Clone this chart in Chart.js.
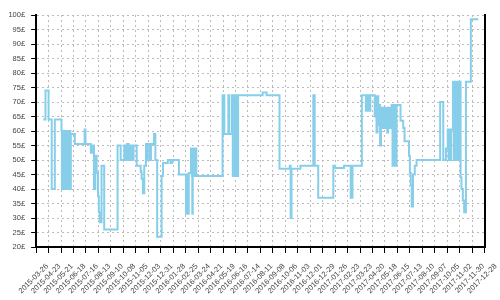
<!DOCTYPE html>
<html><head><meta charset="utf-8">
<script src="https://cdn.jsdelivr.net/npm/chart.js@4/dist/chart.umd.min.js"></script>
<style>html,body{margin:0;padding:0;background:#fff}canvas{display:block}</style>
</head><body>
<canvas id="c" width="500" height="300"></canvas>
<script>
// ---- data ----
const startDate = '2015-03-26';
const xTickLabels = ['2015-03-26','2015-04-23','2015-05-21','2015-06-18','2015-07-16','2015-08-13','2015-09-10','2015-10-08','2015-11-05','2015-12-03','2015-12-31','2016-01-28','2016-02-25','2016-03-24','2016-04-21','2016-05-19','2016-06-16','2016-07-14','2016-08-11','2016-09-08','2016-10-06','2016-11-03','2016-12-01','2016-12-29','2017-01-26','2017-02-23','2017-03-23','2017-04-20','2017-05-18','2017-06-15','2017-07-13','2017-08-10','2017-09-07','2017-10-05','2017-11-02','2017-11-30','2017-12-28'];
const yTickValues = [20,25,30,35,40,45,50,55,60,65,70,75,80,85,90,95,100];
const currency = '£';

const dates = ['2015-04-11','2015-04-16','2015-04-23','2015-04-30','2015-05-07','2015-05-22','2015-05-23','2015-05-25','2015-05-27','2015-05-29','2015-05-31','2015-06-02','2015-06-04','2015-06-06','2015-06-08','2015-06-10','2015-06-11','2015-06-12','2015-06-21','2015-07-13','2015-07-15','2015-07-27','2015-07-30','2015-08-03','2015-08-06','2015-08-09','2015-08-12','2015-08-14','2015-08-16','2015-08-20','2015-08-26','2015-09-25','2015-10-02','2015-10-10','2015-10-11','2015-10-13','2015-10-14','2015-10-16','2015-10-20','2015-10-23','2015-10-25','2015-10-28','2015-10-30','2015-10-31','2015-11-07','2015-11-16','2015-11-18','2015-11-21','2015-11-24','2015-11-28','2015-11-30','2015-12-02','2015-12-07','2015-12-09','2015-12-16','2015-12-19','2015-12-23','2016-01-02','2016-01-05','2016-01-16','2016-01-22','2016-01-26','2016-02-10','2016-02-26','2016-02-28','2016-03-01','2016-03-03','2016-03-08','2016-03-10','2016-03-11','2016-03-12','2016-03-14','2016-03-15','2016-03-17','2016-03-18','2016-03-20','2016-05-18','2016-05-20','2016-05-21','2016-05-22','2016-05-31','2016-06-02','2016-06-08','2016-06-10','2016-06-12','2016-06-14','2016-06-16','2016-06-18','2016-06-20','2016-06-21','2016-06-22','2016-08-16','2016-08-25','2016-09-23','2016-10-16','2016-10-18','2016-10-20','2016-11-09','2016-12-08','2016-12-11','2016-12-19','2017-01-22','2017-01-26','2017-02-15','2017-03-02','2017-03-06','2017-03-27','2017-04-05','2017-04-08','2017-04-11','2017-04-15','2017-04-25','2017-04-27','2017-04-29','2017-05-01','2017-05-03','2017-05-05','2017-05-07','2017-05-09','2017-05-11','2017-05-13','2017-05-15','2017-05-17','2017-05-19','2017-05-21','2017-05-23','2017-05-25','2017-05-27','2017-05-29','2017-05-31','2017-06-02','2017-06-04','2017-06-06','2017-06-08','2017-06-10','2017-06-12','2017-06-13','2017-06-22','2017-06-28','2017-07-01','2017-07-11','2017-07-13','2017-07-15','2017-07-17','2017-07-20','2017-07-24','2017-07-28','2017-09-19','2017-09-26','2017-10-02','2017-10-06','2017-10-08','2017-10-10','2017-10-12','2017-10-14','2017-10-18','2017-10-20','2017-10-22','2017-10-24','2017-10-26','2017-10-28','2017-10-30','2017-11-01','2017-11-03','2017-11-04','2017-11-06','2017-11-09','2017-11-12','2017-11-16','2017-11-27','2017-12-14'];
const prices = [64,74,64,40,64,60,40,60,40,60,40,60,40,60,40,60,40,59,55.5,60.5,55.5,52.5,55,40,51.5,45.5,37.5,32,28.5,48,26,55,50,55,50,55,50,55.5,50,55,50,55,50,55,48,46,43.5,38.5,48,55.5,50,55.5,50,55.5,59,50,23.5,44.5,49,50,49,50,45,31.5,45,31.5,45.5,54,44.5,31.5,54,44.5,54,44.5,54,44.5,72.3,59,72.3,59,72.3,59,72.3,44.5,72.3,44.5,72.3,44.5,72.3,44.5,72.3,73.3,72.3,47,48,30,47,48,72.3,48,37,48,47.2,48,37,48,72.3,67,72.3,67,72.3,65,72,59.5,72,62,69,55,68,61,68,61,68,61,68,59.5,68,61,68,61,69,48,69,48,69,48,69,63.5,61,56.5,51.5,45.5,41.5,34,45,48,50,70,50,54,60.5,50,60.5,50,60.5,77,50,77,50,77,50,77,50,77,44,40,36,32,77,98.5,98.5];

// ---- helpers ----
const DAY = 86400000;
const t0 = Date.parse(startDate);
const toDay = d => Math.round((Date.parse(d) - t0) / DAY);
const fmtDay = v => new Date(t0 + v * DAY).toISOString().slice(0, 10);
const tickFont = {family: 'Liberation Sans', size: 7.5};

new Chart(document.getElementById('c'), {
  type: 'line',
  data: {
    datasets: [{
      data: dates.map((d, i) => ({x: toDay(d), y: prices[i]})),
      borderColor: '#87ceeb',
      borderWidth: 2,
      stepped: true,
      pointRadius: 0,
      fill: false
    }]
  },
  options: {
    responsive: false,
    animation: false,
    plugins: {legend: {display: false}, tooltip: {enabled: false}},
    layout: {padding: {top: 15, right: 4, left: 0, bottom: 0}},
    scales: {
      x: {
        type: 'linear',
        min: toDay(xTickLabels[0]),
        max: toDay(xTickLabels[xTickLabels.length - 1]),
        afterBuildTicks: s => { s.ticks = xTickLabels.map(d => ({value: toDay(d)})); },
        afterFit: s => { s.height = 53; },
        ticks: {autoSkip: false, maxRotation: 45, minRotation: 45, labelOffset: 11, padding: 9,
                color: '#444', font: tickFont, callback: v => fmtDay(v)},
        grid: {color: '#bbb', tickColor: '#000', tickLength: 6},
        border: {color: '#000', width: 2, dash: [2, 3]}
      },
      y: {
        position: 'left',
        min: yTickValues[0],
        max: yTickValues[yTickValues.length - 1],
        afterBuildTicks: s => { s.ticks = yTickValues.map(v => ({value: v})); },
        afterFit: s => { s.width = 34; },
        ticks: {padding: 6, color: '#444', font: tickFont, callback: v => v + currency},
        grid: {color: '#bbb', tickColor: '#000', tickLength: 5},
        border: {color: '#000', width: 2, dash: [2, 3]}
      },
      y2: {
        position: 'right',
        min: yTickValues[0],
        max: yTickValues[yTickValues.length - 1],
        ticks: {display: false},
        grid: {display: false, drawTicks: false},
        border: {color: '#000', width: 2}
      }
    }
  }
});
</script>
</body></html>
